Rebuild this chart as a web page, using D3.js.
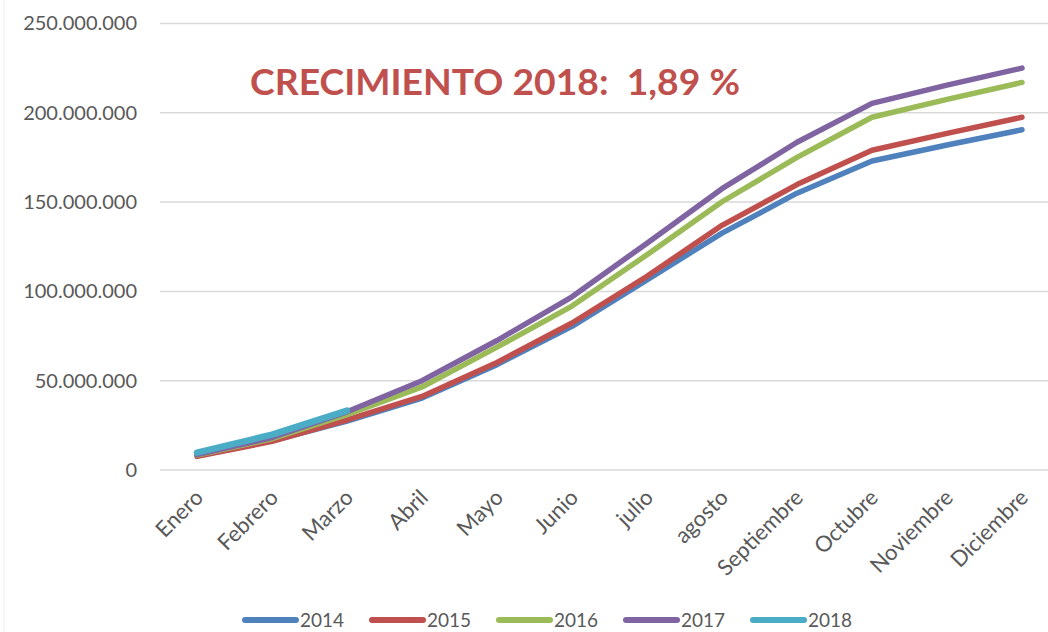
<!DOCTYPE html>
<html><head><meta charset="utf-8">
<script src="https://cdn.jsdelivr.net/npm/d3@7"></script>
<style>body{margin:0;background:#fff}svg{display:block}</style>
</head><body>
<svg id="c" width="1048" height="632"></svg>
<script>
const months = ["Enero","Febrero","Marzo","Abril","Mayo","Junio","julio","agosto","Septiembre","Octubre","Noviembre","Diciembre"];
const years = ["2014","2015","2016","2017","2018"];
const colors = ["#4F81BD","#C0504D","#9BBB59","#8064A2","#4BACC6"];
const s2014 = [8.0,16.3,27.4,40.3,59.0,80.4,106.5,132.6,155.0,173.0,182.0,190.5];
const s2015 = [7.6,16.0,28.0,41.2,60.2,82.3,108.5,137.0,159.8,179.0,188.5,197.5];
const s2016 = [8.3,17.5,31.0,46.5,68.8,91.8,120.5,150.2,175.0,197.5,207.5,217.0];
const s2017 = [8.6,18.2,32.6,50.0,72.5,97.0,127.0,157.5,183.5,205.3,215.5,225.0];
const s2018 = [9.7,19.8,33.2];
const yTicks = [0,50000000,100000000,150000000,200000000,250000000];
const title = "CRECIMIENTO 2018:  1,89 %";

const series = [s2014,s2015,s2016,s2017,s2018].map(a => a.map(v => v*1e6));
const svg = d3.select("#c");
const font = "Lato, 'Open Sans', sans-serif";

// faint chart border
svg.append("line").attr("x1",4).attr("x2",4).attr("y1",0).attr("y2",632).attr("stroke","#ececec").attr("stroke-width",1);

const x = d3.scalePoint().domain(months).range([197,1022]);
const y = d3.scaleLinear().domain([0,250000000]).range([470,23.5]);

// gridlines
svg.append("g").selectAll("line").data(yTicks).join("line")
  .attr("x1",160).attr("x2",1048)
  .attr("y1",d=>y(d)).attr("y2",d=>y(d))
  .attr("stroke","#d9d9d9").attr("stroke-width",1.5);

// y axis labels
const fmt = v => v===0 ? "0" : d3.format(",")(v).replace(/,/g,".");
const yAxis = svg.append("g").attr("transform","translate(145,0)")
  .call(d3.axisLeft(y).tickValues(yTicks).tickFormat(fmt).tickSize(0).tickPadding(8));
yAxis.select(".domain").remove();
yAxis.selectAll("text").attr("font-family",font).attr("font-size",20).attr("fill","#595959");

// x axis labels
const xAxis = svg.append("g").attr("transform","translate(0,470)")
  .call(d3.axisBottom(x).tickSize(0).tickPadding(0));
xAxis.select(".domain").remove();
xAxis.selectAll("text")
  .attr("font-family",font).attr("font-size",22).attr("fill","#595959")
  .attr("text-anchor","end").attr("dy",null).attr("y",0)
  .attr("transform","translate(7,29) rotate(-45)");

// lines
const line = d3.line().x((d,i)=>x(months[i])).y(d=>y(d)).curve(d3.curveLinear);
svg.append("g").selectAll("path").data(series).join("path")
  .attr("d",line).attr("fill","none")
  .attr("stroke",(d,i)=>colors[i])
  .attr("stroke-width",(d,i)=> i===4 ? 6.5 : 5.5)
  .attr("stroke-linecap","round").attr("stroke-linejoin","round");

// title
svg.append("text").attr("x",250).attr("y",95)
  .attr("font-family",font).attr("font-weight","bold").attr("font-size",37)
  .attr("fill","#C0504D").attr("textLength",490).attr("lengthAdjust","spacingAndGlyphs")
  .attr("xml:space","preserve").style("white-space","pre")
  .text(title);

// legend
const lg = svg.append("g").selectAll("g").data(years).join("g")
  .attr("transform",(d,i)=>`translate(${243 + i*127},620)`);
lg.append("line").attr("x1",2).attr("x2",53).attr("y1",0).attr("y2",0)
  .attr("stroke",(d,i)=>colors[i]).attr("stroke-width",6).attr("stroke-linecap","round");
lg.append("text").attr("x",57).attr("y",6.5)
  .attr("font-family",font).attr("font-size",19).attr("fill","#595959")
  .text(d=>d);
</script>
</body></html>
